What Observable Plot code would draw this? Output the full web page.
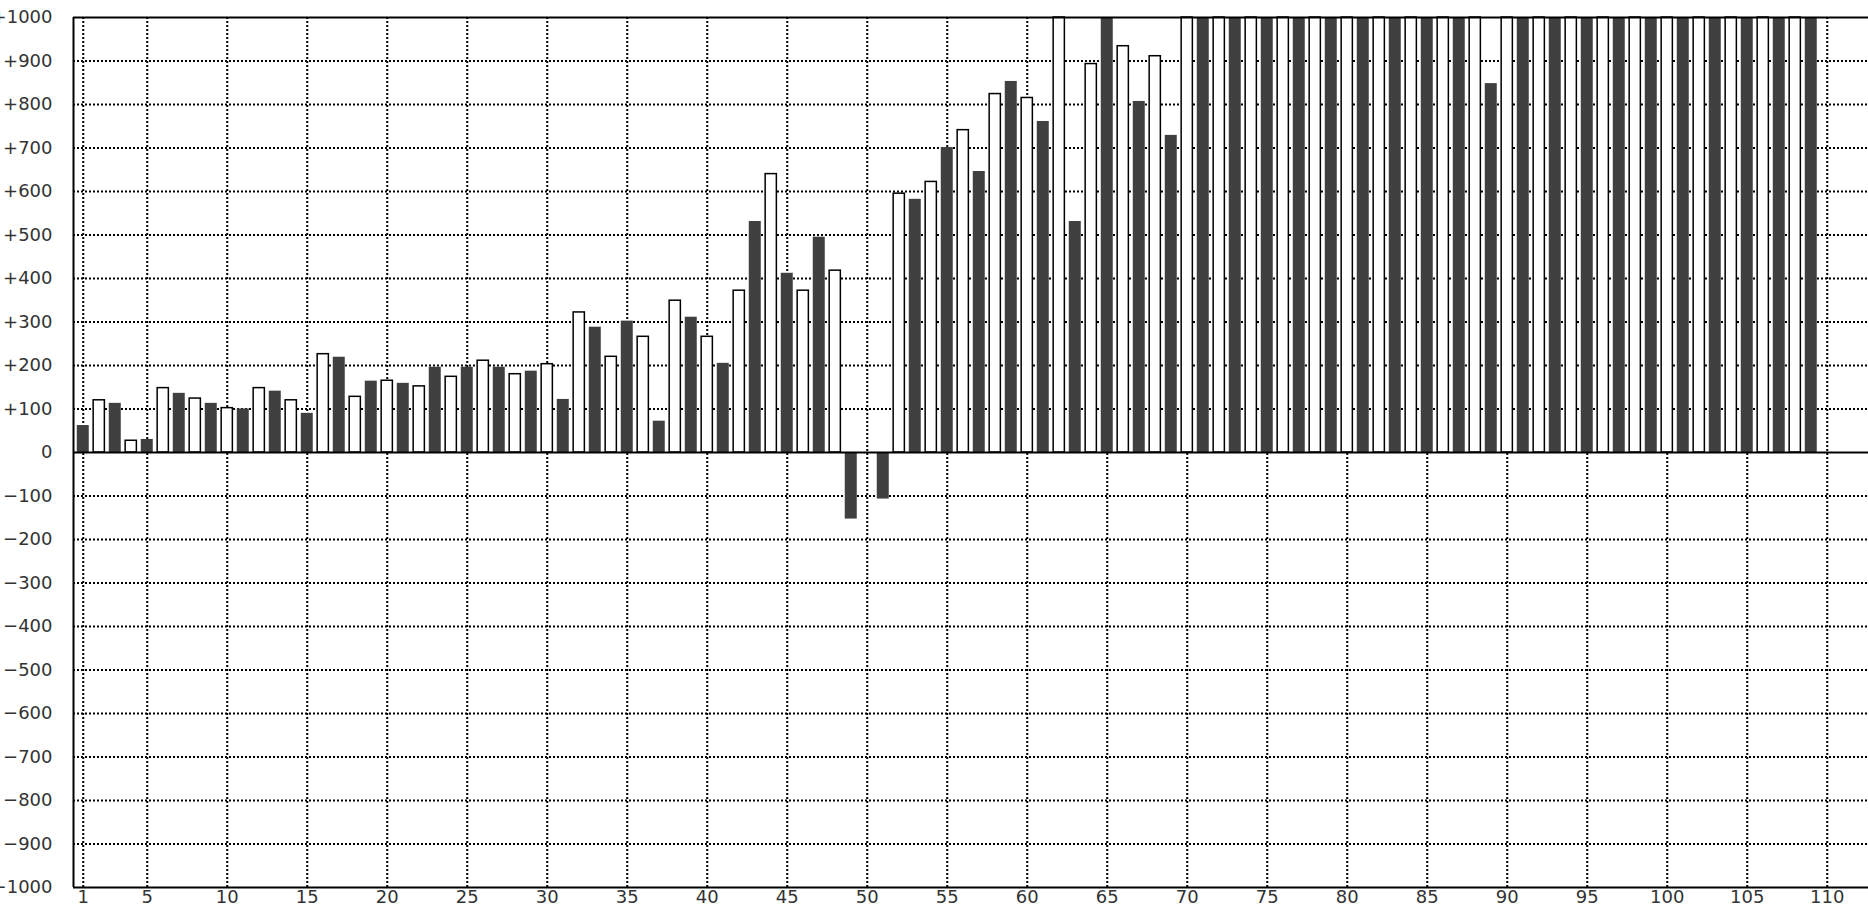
<!DOCTYPE html>
<html>
<head>
<meta charset="utf-8">
<script src="https://cdn.jsdelivr.net/npm/d3@7"></script>
<script src="https://cdn.jsdelivr.net/npm/@observablehq/plot@0.6"></script>
<style>
  html, body { margin: 0; padding: 0; background: #fff; overflow: hidden; }
</style>
</head>
<body>
<div id="chart"></div>
<script>
// Dark (filled) bars sit on odd positions 1,3,...,109
const darkX = d3.range(1, 110, 2);
const darkValues = [
  62, 113, 30, 136, 113, 100, 141, 90, 219, 164,
  159, 196, 196, 196, 187, 122, 288, 302, 72, 311,
  205, 531, 412, 495, -153, -107, 582, 701, 646, 853,
  761, 531, 1000, 807, 729, 1000, 1000, 1000, 1000, 1000,
  1000, 1000, 1000, 1000, 848, 1000, 1000, 1000, 1000, 1000,
  1000, 1000, 1000, 1000, 1000
];
// White (outlined) bars sit on even positions 2,4,...,108
const whiteX = d3.range(2, 110, 2);
const whiteValues = [
  120, 27, 148, 124, 102, 148, 120, 226, 128, 165,
  152, 174, 211, 180, 203, 322, 220, 266, 349, 266,
  372, 640, 372, 418, null, 595, 622, 741, 824, 815,
  1000, 893, 934, 911, 1000, 1000, 1000, 1000, 1000, 1000,
  1000, 1000, 1000, 1000, 1000, 1000, 1000, 1000, 1000, 1000,
  1000, 1000, 1000, 1000
];

const xTicks = [1, 5, 10, 15, 20, 25, 30, 35, 40, 45, 50, 55, 60, 65, 70, 75, 80, 85, 90, 95, 100, 105, 110];
const yTicks = [1000, 900, 800, 700, 600, 500, 400, 300, 200, 100, 0, -100, -200, -300, -400, -500, -600, -700, -800, -900, -1000];
const yTickLabels = ["+1000", "+900", "+800", "+700", "+600", "+500", "+400", "+300", "+200", "+100", "0",
  "−100", "−200", "−300", "−400", "−500", "−600", "−700", "−800", "−900", "−1000"];

const darkData = darkX.map((x, i) => ({x, v: darkValues[i]})).filter(d => d.v != null);
const whiteData = whiteX.map((x, i) => ({x, v: whiteValues[i]})).filter(d => d.v != null);
const yGrid = yTicks.filter(v => v !== 0 && Math.abs(v) !== 1000);
const labelOf = new Map(yTicks.map((t, i) => [t, yTickLabels[i]]));

const W = 1868, H = 908, ML = 73;
const x0 = 0.39;
const xMax = x0 + (W - ML) / 16;

const chart = Plot.plot({
  width: W,
  height: H,
  marginLeft: ML,
  marginRight: 0,
  marginTop: 17,
  marginBottom: 21,
  x: {domain: [x0, xMax]},
  y: {domain: [-1000, 1000]},
  style: {fontFamily: "'DejaVu Sans', sans-serif", fontSize: "18px", background: "#fff"},
  marks: [
    Plot.ruleY(yGrid, {stroke: "#000", strokeWidth: 2, strokeDasharray: "2,2"}),
    Plot.ruleX(xTicks, {stroke: "#000", strokeWidth: 2, strokeDasharray: "2,2"}),
    Plot.rect(whiteData, {x1: d => d.x - 0.35, x2: d => d.x + 0.35, y1: 0, y2: "v", fill: "#fff", stroke: "#000", strokeWidth: 1.5}),
    Plot.rect(darkData, {x1: d => d.x - 0.375, x2: d => d.x + 0.375, y1: 0, y2: "v", fill: "#404040"}),
    Plot.ruleY([0], {stroke: "#000", strokeWidth: 2}),
    Plot.ruleY([-1000, 1000], {stroke: "#000", strokeWidth: 2}),
    Plot.ruleX([x0], {stroke: "#000", strokeWidth: 2}),
    Plot.axisY(yTicks, {tickSize: 0, tickPadding: 21, tickFormat: d => labelOf.get(d), fill: "#333", label: null}),
    Plot.axisX(xTicks, {tickSize: 0, tickPadding: 3, tickFormat: d => String(d), fill: "#333", label: null})
  ]
});
document.getElementById("chart").appendChild(chart);
</script>
</body>
</html>
